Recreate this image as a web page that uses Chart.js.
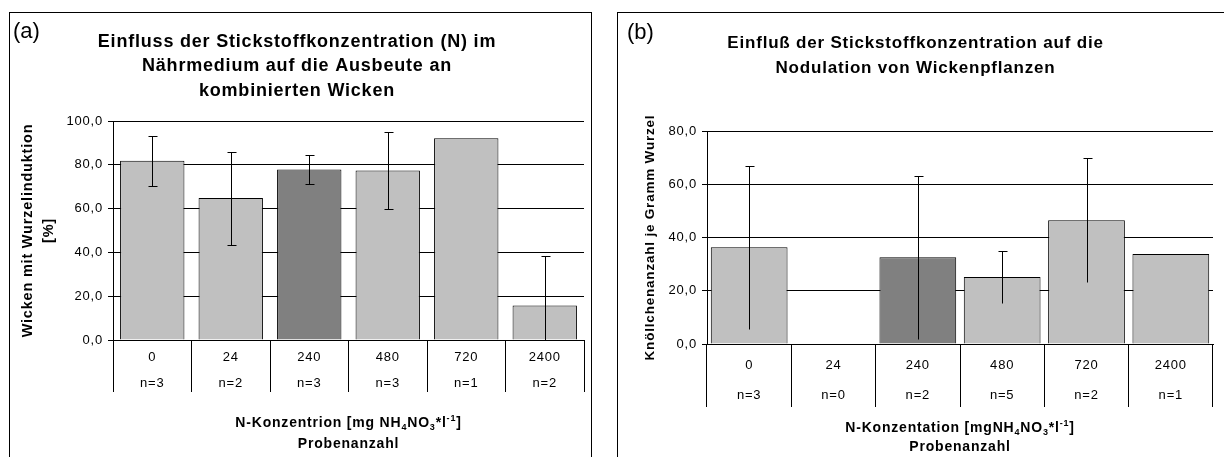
<!DOCTYPE html>
<html>
<head>
<meta charset="utf-8">
<title>Stickstoffkonzentration und Wicken</title>
<script src="https://cdn.jsdelivr.net/npm/chart.js@4.4.1/dist/chart.umd.min.js"></script>
<style>
  html, body { margin: 0; padding: 0; background: #fff; }
  body { width: 1224px; height: 457px; overflow: hidden; position: relative; font-family: 'Liberation Sans', Arial, sans-serif; }
  .panel { position: absolute; top: 12px; height: 460px; border: 1px solid #000; box-sizing: border-box; background: #fff; }
  #panelA { left: 9px; width: 583px; }
  #panelB { left: 617px; width: 613px; }
  .panel canvas { position: absolute; left: 0; top: 0; }
  .tag { position: absolute; font-size: 22px; line-height: 22px; color: #000; }
  #panelA .tag { left: 3px; top: 6.5px; }
  #panelB .tag { left: 9px; top: 7.5px; }
</style>
</head>
<body>
<div class="panel" id="panelA"><canvas id="chartA" width="581" height="446"></canvas><div class="tag">(a)</div></div>
<div class="panel" id="panelB"><canvas id="chartB" width="611" height="446"></canvas><div class="tag">(b)</div></div>
<script>
// data
const concLabels = ['0', '24', '240', '480', '720', '2400']

// (a) Wicken mit Wurzelinduktion [%]
const countsA = ['n=3', 'n=2', 'n=3', 'n=3', 'n=1', 'n=2']
const valuesA = [81.8, 64.8, 77.9, 77.4, 92.1, 15.8]
const errorsA = [11.5, 21.2, 6.8, 17.4, 0, 22.6]

// (b) Knöllchenanzahl je Gramm Wurzel
const countsB = ['n=3', 'n=0', 'n=2', 'n=5', 'n=2', 'n=1']
const valuesB = [36.3, null, 32.6, 25.2, 46.5, 33.8]
const errorsB = [30.6, 0, 30.6, 9.7, 23.3, 0]

const titleA = ['Einfluss der Stickstoffkonzentration (N) im', 'Nährmedium auf die Ausbeute an', 'kombinierten Wicken']
const titleB = ['Einfluß der Stickstoffkonzentration auf die', 'Nodulation von Wickenpflanzen']
const yTitleA = ['Wicken mit Wurzelinduktion', '[%]']
const yTitleB = 'Knöllchenanzahl je Gramm Wurzel'
// first x title line, with sub- and superscripts
const unitA = [['N-Konzentrion [mg NH'], ['4', 'sub'], ['NO'], ['3', 'sub'], ['*l'], ['-1', 'sup'], [']']]
const unitB = [['N-Konzentation [mgNH'], ['4', 'sub'], ['NO'], ['3', 'sub'], ['*l'], ['-1', 'sup'], [']']]
const sampleTitle = 'Probenanzahl'

const highlight = 2   // 240 mg is drawn darker

const FONT = "'Liberation Sans', Arial, sans-serif"
Chart.defaults.font.family = FONT
Chart.defaults.color = '#000'

// start: plugins
const spacing = {
    id: 'spacing',
    beforeDraw(chart) {
        chart.ctx.letterSpacing = '0.8px'   // the Excel text is set a bit wide
    }
}

const errorBars = {
    id: 'errorBars',
    afterDatasetsDraw(chart, args, opts) {
        const ctx = chart.ctx
        const y = chart.scales.y
        const meta = chart.getDatasetMeta(0)
        const vals = chart.data.datasets[0].data
        ctx.save()
        ctx.strokeStyle = '#000'
        ctx.lineWidth = 1
        opts.errors.forEach(function (e, i) {
            if (!e || vals[i] == null) return
            const x = Math.round(meta.data[i].x) + 0.5
            const top = Math.round(y.getPixelForValue(vals[i] + e)) + 0.5
            const low = Math.max(vals[i] - e, y.min)
            const bottom = Math.round(y.getPixelForValue(low)) + 0.5
            ctx.beginPath()
            ctx.moveTo(x, top)
            ctx.lineTo(x, bottom)
            ctx.moveTo(x - 4, top)
            ctx.lineTo(x + 5, top)
            if (opts.bottomCap && low > y.min) {
                ctx.moveTo(x - 4, bottom)
                ctx.lineTo(x + 5, bottom)
            }
            ctx.stroke()
        })
        ctx.restore()
    }
}

// unit line of the x title, drawn above the Chart.js title line
const unitTitle = {
    id: 'unitTitle',
    afterDraw(chart, args, opts) {
        const ctx = chart.ctx
        const x = chart.scales.x
        const big = 'bold 14px ' + FONT
        const small = 'bold 9px ' + FONT
        ctx.save()
        ctx.letterSpacing = '0.8px'
        ctx.fillStyle = '#000'
        ctx.textBaseline = 'alphabetic'
        ctx.textAlign = 'left'
        let w = 0
        opts.parts.forEach(function (p) {
            ctx.font = p[1] ? small : big
            w += ctx.measureText(p[0]).width
        })
        let px = (x.left + x.right) / 2 - w / 2
        const base = x.bottom - opts.pad - opts.lineHeight * 1.5 + 5
        opts.parts.forEach(function (p) {
            ctx.font = p[1] ? small : big
            const dy = p[1] === 'sub' ? 3 : (p[1] === 'sup' ? -6 : 0)
            ctx.fillText(p[0], px, base + dy)
            px += ctx.measureText(p[0]).width
        })
        ctx.restore()
    }
}
// end: plugins

function germanNumber(v) {
    return v.toFixed(1).replace('.', ',')
}

function makeChart(id, s) {
    return new Chart(document.getElementById(id), {
        type: 'bar',
        data: {
            labels: concLabels.map(function (c, i) { return [c, s.counts[i]] }),
            datasets: [{
                data: s.values,
                backgroundColor: concLabels.map(function (c, i) { return i === highlight ? '#808080' : '#c0c0c0' }),
                borderColor: '#000',
                borderWidth: 1,
                categoryPercentage: 1,
                barPercentage: s.barPct
            }]
        },
        options: {
            responsive: false,
            animation: false,
            layout: { padding: { left: 0, right: s.padRight, top: 0, bottom: 0 } },
            plugins: {
                legend: { display: false },
                tooltip: { enabled: false },
                title: {
                    display: true,
                    text: s.title,
                    color: '#000',
                    font: { size: s.titleSize, weight: 'bold', lineHeight: s.titleLine / s.titleSize },
                    padding: s.titlePad
                },
                errorBars: { errors: s.errors, bottomCap: s.bottomCap },
                unitTitle: { parts: s.unit, pad: s.xTitlePad, lineHeight: s.xTitleLine }
            },
            scales: {
                x: {
                    grid: { display: true, drawOnChartArea: false, drawTicks: true, tickLength: s.tableDepth, color: '#000', offset: true },
                    border: { color: '#000' },
                    ticks: {
                        color: '#000',
                        autoSkip: false,
                        maxRotation: 0,
                        padding: s.labelPad,
                        font: { size: 13, lineHeight: s.rowHeight / 13 }
                    },
                    title: {
                        display: true,
                        text: sampleTitle,
                        color: '#000',
                        font: { size: 14, weight: 'bold', lineHeight: s.xTitleLine / 14 },
                        padding: { top: 0, bottom: s.xTitlePad }
                    },
                    afterFit: function (scale) { scale.height = s.xHeight }
                },
                y: {
                    min: 0,
                    max: s.yMax,
                    grid: { color: '#000', tickLength: 5 },
                    border: { color: '#000' },
                    ticks: { stepSize: 20, padding: 5, color: '#000', font: { size: 13 }, callback: germanNumber },
                    title: {
                        display: true,
                        text: s.yTitle,
                        color: '#000',
                        font: { size: s.yTitleSize, weight: 'bold', lineHeight: s.yTitleLine / s.yTitleSize },
                        padding: { top: s.yTitlePad, bottom: 0 }
                    },
                    afterFit: function (scale) { scale.width = s.yWidth }
                }
            }
        },
        plugins: [spacing, errorBars, unitTitle]
    })
}

makeChart('chartA', {
    counts: countsA, values: valuesA, errors: errorsA, bottomCap: true,
    title: titleA, titleSize: 18, titleLine: 24.5, titlePad: { top: 16.75, bottom: 17.75 },
    unit: unitA, xTitleLine: 22.5, xTitlePad: 3.5,
    yTitle: yTitleA, yTitleSize: 14.5, yTitleLine: 21, yTitlePad: 7.5,
    yMax: 100, yWidth: 103, xHeight: 119, padRight: 7,
    barPct: 0.82, tableDepth: 52, labelPad: -48, rowHeight: 26
})

makeChart('chartB', {
    counts: countsB, values: valuesB, errors: errorsB, bottomCap: false,
    title: titleB, titleSize: 17, titleLine: 25.5, titlePad: { top: 17.25, bottom: 49.75 },
    unit: unitB, xTitleLine: 21, xTitlePad: 1,
    yTitle: yTitleB, yTitleSize: 13.5, yTitleLine: 16.2, yTitlePad: 23.9,
    yMax: 80, yWidth: 89, xHeight: 115, padRight: 16,
    barPct: 0.91, tableDepth: 63, labelPad: -57, rowHeight: 30
})
</script>
</body>
</html>
